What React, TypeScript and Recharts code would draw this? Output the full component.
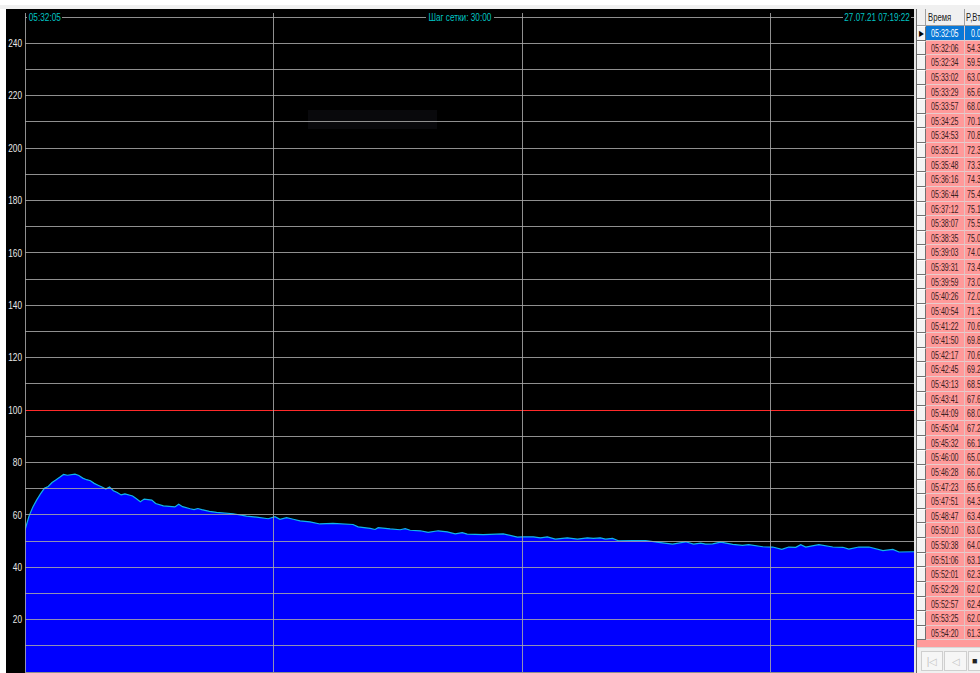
import React from 'react';
import { AreaChart, Area, XAxis, YAxis, ReferenceLine } from 'recharts';

const startLabel = '05:32:05';
const stepLabel = 'Шаг сетки: 30:00';
const endLabel = '27.07.21 07:19:22';
const totalSeconds = 6437;
const verticalGridSeconds = [0, 1800, 3600, 5400];
const horizontalGridValues = [0, 10, 20, 30, 40, 50, 60, 70, 80, 90, 110, 120, 130, 140, 150, 160, 170, 180, 190, 200, 210, 220, 230, 240, 250];
const limitValue = 100;
const yTicks = [20, 40, 60, 80, 100, 120, 140, 160, 180, 200, 220, 240];

const chartSeconds = [
  0, 29, 57, 84, 112, 140, 168, 196, 223, 251, 279, 307, 362, 390, 418, 446, 474, 501, 529, 557,
  585, 612, 640, 668, 696, 724, 779, 807, 835, 863, 918, 946, 1002, 1085, 1113, 1141, 1196, 1224, 1252, 1280,
  1335, 1387, 1507, 1604, 1677, 1761, 1810, 1846, 1894, 1942, 1991, 2063, 2136, 2230, 2375, 2412, 2499, 2535, 2557, 2644,
  2716, 2753, 2789, 2862, 2919, 2992, 3057, 3115, 3166, 3202, 3318, 3463, 3565, 3608, 3681, 3732, 3782, 3840, 3927, 4000,
  4072, 4116, 4166, 4203, 4254, 4297, 4399, 4493, 4587, 4689, 4783, 4841, 4892, 4928, 4979, 5037, 5124, 5196, 5240, 5341,
  5414, 5480, 5530, 5581, 5617, 5653, 5748, 5849, 5922, 5965, 6038, 6111, 6212, 6284, 6328, 6437,
];
const chartValues = [
  54.2, 59.5, 63.0, 65.6, 68.0, 70.1, 70.8, 72.3, 73.3, 74.3, 75.4, 75.1, 75.5, 75.0, 74.0, 73.4, 73.0, 72.0, 71.3, 70.6,
  69.8, 70.6, 69.2, 68.5, 67.6, 68.0, 67.2, 66.1, 65.0, 66.0, 65.6, 64.3, 63.4, 63.0, 64.0, 63.1, 62.3, 62.0, 62.4, 62.0,
  61.3, 60.9, 60.4, 59.5, 59.1, 58.5, 59.3, 58.3, 58.9, 58.3, 57.7, 57.3, 56.5, 56.7, 56.3, 55.4, 54.8, 54.4, 55.1, 54.6,
  54.3, 54.7, 54.1, 53.9, 53.3, 53.9, 53.5, 52.7, 53.2, 52.6, 52.4, 52.7, 51.5, 51.6, 51.6, 51.2, 51.6, 50.7, 51.2, 50.7,
  51.2, 51.0, 51.2, 50.7, 51.0, 50.1, 50.2, 50.2, 49.5, 48.8, 49.7, 48.8, 49.2, 48.8, 48.9, 49.6, 48.7, 48.3, 48.6, 47.8,
  47.7, 46.8, 47.7, 47.6, 48.6, 47.7, 48.6, 47.7, 47.6, 46.9, 47.7, 47.7, 46.3, 46.8, 45.8, 45.9,
];

const tableHeaders = ['Время', 'P,Вт'];
const tableTimes = [
  '05:32:05', '05:32:06', '05:32:34', '05:33:02', '05:33:29', '05:33:57', '05:34:25', '05:34:53', '05:35:21', '05:35:48',
  '05:36:16', '05:36:44', '05:37:12', '05:38:07', '05:38:35', '05:39:03', '05:39:31', '05:39:59', '05:40:26', '05:40:54',
  '05:41:22', '05:41:50', '05:42:17', '05:42:45', '05:43:13', '05:43:41', '05:44:09', '05:45:04', '05:45:32', '05:46:00',
  '05:46:28', '05:47:23', '05:47:51', '05:48:47', '05:50:10', '05:50:38', '05:51:06', '05:52:01', '05:52:29', '05:52:57',
  '05:53:25', '05:54:20',
];
const tableValues = [
  0.0, 54.3, 59.5, 63.0, 65.6, 68.0, 70.1, 70.8, 72.3, 73.3,
  74.3, 75.4, 75.1, 75.5, 75.0, 74.0, 73.4, 73.0, 72.0, 71.3,
  70.6, 69.8, 70.6, 69.2, 68.5, 67.6, 68.0, 67.2, 66.1, 65.0,
  66.0, 65.6, 64.3, 63.4, 63.0, 64.0, 63.1, 62.3, 62.0, 62.4,
  62.0, 61.3,
];

const data = chartSeconds.map((t, i) => ({ t, v: chartValues[i] }));

const FONT = '"Liberation Sans", Arial, sans-serif';
const GRID = '#a8a8a8';

const YTick = (props: any) => {
  const { x, y, payload } = props;
  return (
    <text
      x={x}
      y={y}
      dy={3.8}
      textAnchor="end"
      fill="#e8e8e8"
      fontSize={10.6}
      fontFamily={FONT}
      transform={`translate(${x},0) scale(0.78,1) translate(${-x},0)`}
    >
      {payload.value}
    </text>
  );
};

const abs = (l: number, t: number, w: number, h: number, extra: React.CSSProperties = {}): React.CSSProperties => ({
  position: 'absolute', left: l, top: t, width: w, height: h, boxSizing: 'border-box', ...extra,
});

const Squeeze = ({ s, origin, children }: { s: number; origin: string; children: React.ReactNode }) => (
  <span style={{ display: 'inline-block', whiteSpace: 'nowrap', flexShrink: 0, transform: `scaleX(${s})`, transformOrigin: origin }}>{children}</span>
);

const flexCell = (justify: string): React.CSSProperties => ({ display: 'flex', alignItems: 'center', justifyContent: justify, overflow: 'visible' });

export default function App() {
  const rowH = 14.63;
  const rowTop = (i: number) => Math.round(26 + i * rowH);
  const lastBottom = rowTop(tableTimes.length);
  const headStyle: React.CSSProperties = { background: '#000', color: '#00c4c4', fontSize: 10.7, ...flexCell('center') };
  return (
    <div style={{ position: 'absolute', left: 0, top: 0, width: 980, height: 673, overflow: 'hidden', background: '#ffffff', fontFamily: FONT }}>
      <div style={abs(0, 5, 980, 4, { background: '#f0f0f0' })} />
      {/* chart panel */}
      <div style={abs(6, 9, 908, 664, { background: '#000000' })}>
        <div style={abs(302, 101, 129, 19, { background: '#09090c' })} />
        <div style={{ position: 'absolute', left: 0, top: 0 }}>
          <AreaChart width={908} height={664} data={data} margin={{ top: 8, right: 0, bottom: 1, left: 0 }}>
            <XAxis type="number" dataKey="t" domain={[0, totalSeconds]} hide allowDataOverflow />
            <YAxis
              type="number"
              domain={[0, 250]}
              ticks={yTicks}
              width={19}
              tickLine={false}
              axisLine={false}
              tickSize={3}
              tickMargin={0}
              interval={0}
              tick={<YTick />}
              allowDataOverflow
            />
            <Area
              type="linear"
              dataKey="v"
              stroke="#10b4e8"
              strokeWidth={1.2}
              fill="#0000ff"
              fillOpacity={1}
              isAnimationActive={false}
              dot={false}
              activeDot={false}
            />
            {horizontalGridValues.map((v) => (
              <ReferenceLine key={'h' + v} y={v} stroke={GRID} strokeOpacity={0.85} strokeWidth={1} ifOverflow="visible" shapeRendering="crispEdges" />
            ))}
            <ReferenceLine y={limitValue} stroke="#ff2a2a" strokeWidth={1} ifOverflow="visible" shapeRendering="crispEdges" />
            {verticalGridSeconds.map((s) => (
              <ReferenceLine
                key={'v' + s}
                segment={[{ x: s, y: 0 }, { x: s, y: 251.5 }]}
                stroke={GRID}
                strokeOpacity={0.85}
                strokeWidth={1}
                ifOverflow="visible"
                shapeRendering="crispEdges"
              />
            ))}
          </AreaChart>
        </div>
      </div>
      {/* header labels */}
      <div style={abs(27, 11, 35, 12, headStyle)}><Squeeze s={0.77} origin="center">{startLabel}</Squeeze></div>
      <div style={abs(426, 11, 68, 12, headStyle)}><Squeeze s={0.77} origin="center">{stepLabel}</Squeeze></div>
      <div style={abs(843, 11, 68, 12, headStyle)}><Squeeze s={0.76} origin="center">{endLabel}</Squeeze></div>

      {/* table */}
      <div style={abs(914, 9, 2, 664, { background: '#e6e6e6' })} />
      <div style={abs(916, 9, 1, 664, { background: '#6a6a6a' })} />
      <div style={abs(917, 9, 63, 664, { background: '#f0f0f0' })} />
      <div style={abs(917, 9, 9, 17, { background: '#f0f0f0', borderRight: '1px solid #a0a0a0', borderBottom: '1px solid #a0a0a0' })} />
      <div style={abs(926, 9, 39, 17, { background: '#f0f0f0', borderRight: '1px solid #a0a0a0', borderBottom: '1px solid #a0a0a0', fontSize: 10.7, color: '#202020', paddingLeft: 2, ...flexCell('flex-start') })}>
        <Squeeze s={0.72} origin="left center">{tableHeaders[0]}</Squeeze>
      </div>
      <div style={abs(965, 9, 40, 17, { background: '#f0f0f0', borderBottom: '1px solid #a0a0a0', fontSize: 10.7, color: '#202020', paddingLeft: 1, ...flexCell('flex-start') })}>
        <Squeeze s={0.72} origin="left center">{tableHeaders[1]}</Squeeze>
      </div>
      {tableTimes.map((tm, i) => {
        const top = rowTop(i);
        const h = rowTop(i + 1) - top;
        const sel = i === 0;
        const bg = sel ? '#0a78d7' : '#ff9a9a';
        const fg = sel ? '#ffffff' : '#3a2020';
        return (
          <React.Fragment key={tm}>
            <div style={abs(917, top, 9, h, { background: '#f4f4f4', borderTop: '1px solid #ffffff', borderRight: '1px solid #707070', borderBottom: '1px solid #707070', fontSize: 8, color: '#000', ...flexCell('center') })}>
              {sel ? <Squeeze s={0.8} origin="center">▶</Squeeze> : null}
            </div>
            <div style={abs(926, top, 39, h, { background: bg, borderRight: '1px solid #e0c4c4', borderBottom: '1px solid #e6cccc', fontSize: 10.7, color: fg, ...flexCell('center') })}>
              <Squeeze s={0.66} origin="center">{tm}</Squeeze>
            </div>
            <div style={abs(965, top, 20, h, { background: bg, borderBottom: '1px solid #e6cccc', fontSize: 10.7, color: fg, ...flexCell('flex-end') })}>
              <Squeeze s={0.66} origin="right center">{tableValues[i].toFixed(2)}</Squeeze>
            </div>
          </React.Fragment>
        );
      })}
      <div style={abs(917, lastBottom, 63, 647 - lastBottom, { background: '#ff9a9a' })} />
      <div style={abs(917, 647, 63, 26, { background: '#f0f0f0', borderTop: '1px solid #d8d8d8' })} />
      <div style={abs(921, 651, 22, 20, { background: '#f6f6f6', border: '1px solid #cfcfcf', color: '#c4c4c4', fontSize: 10, ...flexCell('center') })}>|◁</div>
      <div style={abs(944, 651, 23, 20, { background: '#f6f6f6', border: '1px solid #cfcfcf', color: '#c4c4c4', fontSize: 10, ...flexCell('center') })}>◁</div>
      <div style={abs(968, 651, 23, 20, { background: '#f6f6f6', border: '1px solid #cfcfcf', color: '#202020', fontSize: 9, paddingLeft: 3, ...flexCell('flex-start') })}>■</div>
    </div>
  );
}
